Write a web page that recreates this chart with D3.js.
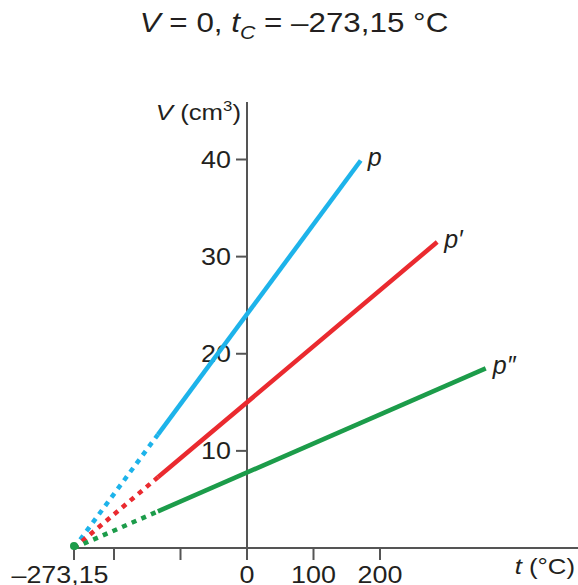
<!DOCTYPE html>
<meta charset="utf-8">
<style>
body { margin: 0; background: #fff; }
text { font-family: "Liberation Sans", Arial, sans-serif; fill: #231f20; }
</style>
<svg width="578" height="585"></svg>
<script src="https://d3js.org/d3.v7.min.js"></script>
<script>

// temperatures (°C) and volumes (cm3)
var t_zero = -273.15;
var t_ticks = [-273.15, -200, -100, 0, 100, 200];
var t_labels = ["\u2013273,15", "", "", "0", "100", "200"];
var v_ticks = [10, 20, 30, 40];

// one line per pressure, from absolute zero to its last measured point
var series_names = ["p", "p\u2032", "p\u2033"];
var series_tend = [171, 286, 359];
var series_vend = [39.9, 31.5, 18.5];
var series_colours = ["#1db3ea", "#ea2a2f", "#1c9c4a"];
var dotted_until = -134;   // extrapolated part is dotted

var axis_colour = "#555";
var stretch = 1.12;        // the original type is a bit wide

var svg = d3.select("svg");

// the t axis is schematic: -273,15 sits closer to -200 than it should
var x = d3.scaleLinear().domain([-273.15, -200, 200]).range([74, 114, 380]);
var y = d3.scaleLinear().domain([0, 40]).range([548, 159.5]);

// text that is widened a little, like the original lettering
function addText(px, py, size, anchor) {
    return svg.append("text")
        .attr("transform", "translate(" + px + "," + py + ") scale(" + stretch + ",1)")
        .attr("text-anchor", anchor)
        .style("font-size", size + "px");
}

// title
var title = addText(294, 32, 28, "middle");
title.append("tspan").style("font-style", "italic").text("V");
title.append("tspan").text(" = 0, ");
title.append("tspan").style("font-style", "italic").text("t");
title.append("tspan").style("font-style", "italic").style("font-size", "19px").attr("dy", 7).text("C");
title.append("tspan").attr("dy", -7).text(" = \u2013273,15 \u00b0C");

// x axis
svg.append("line")
    .attr("x1", 72).attr("x2", 578)
    .attr("y1", y(0)).attr("y2", y(0))
    .style("stroke", axis_colour).style("stroke-width", 2);

svg.selectAll(".xtick")
    .data(t_ticks)
    .enter().append("line")
    .attr("class", "xtick")
    .attr("x1", function(d) { return x(d); })
    .attr("x2", function(d) { return x(d); })
    .attr("y1", y(0)).attr("y2", y(0) + 12)
    .style("stroke", axis_colour).style("stroke-width", 2);

t_ticks.forEach(function(d, i) {
    if (t_labels[i] == "") return;
    var off = i == 0 ? -14 : 0;
    addText(x(d) + off, 583, 24, "middle").text(t_labels[i]);
});

var tl = addText(575, 574, 23, "end");
tl.append("tspan").style("font-style", "italic").text("t");
tl.append("tspan").text(" (\u00b0C)");

// y axis
svg.append("line")
    .attr("x1", x(0)).attr("x2", x(0))
    .attr("y1", 102).attr("y2", y(0) + 12)
    .style("stroke", axis_colour).style("stroke-width", 2);

svg.selectAll(".ytick")
    .data(v_ticks)
    .enter().append("line")
    .attr("class", "ytick")
    .attr("x1", x(0) - 11).attr("x2", x(0))
    .attr("y1", function(d) { return y(d); })
    .attr("y2", function(d) { return y(d); })
    .style("stroke", axis_colour).style("stroke-width", 2);

v_ticks.forEach(function(d) {
    addText(x(0) - 16, y(d) + 8.5, 24, "end").text(d);
});

var vl = addText(241, 120, 23, "end");
vl.append("tspan").style("font-style", "italic").text("V");
vl.append("tspan").text(" (cm");
vl.append("tspan").style("font-size", "15px").attr("dy", -9).text("3");
vl.append("tspan").attr("dy", 9).text(")");

// lines: dotted extrapolation then solid measured part
series_names.forEach(function(name, i) {
    var x0 = x(t_zero), y0 = y(0);
    var x1 = x(series_tend[i]), y1 = y(series_vend[i]);
    var xb = x(dotted_until);
    var yb = y0 + (y1 - y0) * (xb - x0) / (x1 - x0);

    svg.append("line")
        .attr("x1", x0).attr("y1", y0)
        .attr("x2", xb).attr("y2", yb)
        .style("stroke", series_colours[i])
        .style("stroke-width", 4.5)
        .style("stroke-dasharray", "5,5.5");

    svg.append("line")
        .attr("x1", xb).attr("y1", yb)
        .attr("x2", x1).attr("y2", y1)
        .style("stroke", series_colours[i])
        .style("stroke-width", 4.5);

    svg.append("text")
        .attr("x", x1 + 7)
        .attr("y", y1 + 6)
        .style("font-size", "25px")
        .style("font-style", "italic")
        .text(name);
});

svg.append("circle")
    .attr("cx", x(t_zero)).attr("cy", y(0) - 2)
    .attr("r", 4)
    .style("fill", series_colours[2]);

</script>
